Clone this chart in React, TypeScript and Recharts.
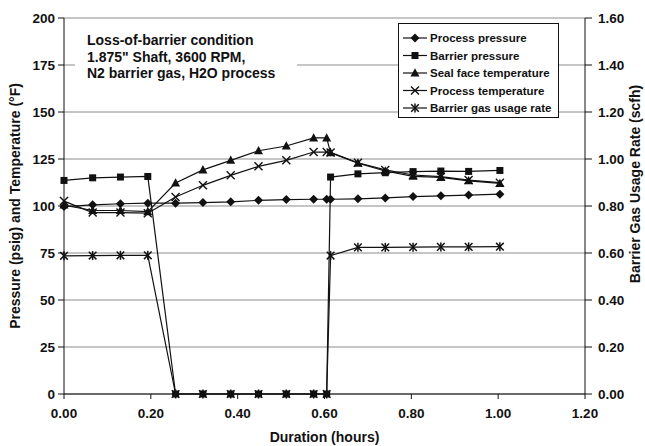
import React from 'react';
import { LineChart, Line, XAxis, YAxis, CartesianGrid } from 'recharts';

const durationHours = [0, 0.066, 0.13, 0.193, 0.257, 0.32, 0.384, 0.448, 0.512, 0.575, 0.605, 0.614, 0.677, 0.74, 0.804, 0.868, 0.932, 1.004];
const processPressure = [99.7, 100.6, 101.2, 101.5, 101.5, 101.8, 102.2, 103.0, 103.4, 103.6, 103.6, 103.6, 103.8, 104.3, 105.0, 105.4, 105.8, 106.3];
const barrierPressure = [113.6, 115.0, 115.4, 115.7, 0, 0, 0, 0, 0, 0, 0, 115.4, 117.1, 117.7, 118.3, 118.6, 118.4, 118.9];
const sealFaceTemp = [100.5, 97.6, 97.6, 97.0, 112.2, 119.2, 124.3, 129.4, 131.9, 136.2, 136.2, 128.3, 122.8, 118.6, 115.8, 115.2, 113.4, 112.0];
const processTemp = [102.6, 96.5, 96.5, 96.2, 104.8, 111.0, 116.3, 121.1, 124.3, 128.7, 128.7, 128.5, 123.0, 119.2, 116.5, 115.6, 113.8, 112.4];
const gasUsageRate = [0.588, 0.589, 0.59, 0.59, 0, 0, 0, 0, 0, 0, 0, 0.589, 0.624, 0.624, 0.625, 0.626, 0.626, 0.627];

const leftTicks = [0, 25, 50, 75, 100, 125, 150, 175, 200];
const rightTicks = [0, 0.2, 0.4, 0.6, 0.8, 1.0, 1.2, 1.4, 1.6];
const xTicks = [0, 0.2, 0.4, 0.6, 0.8, 1.0, 1.2];

const seriesNames = ['Process pressure', 'Barrier pressure', 'Seal face temperature', 'Process temperature', 'Barrier gas usage rate'];
const noteLines = ['Loss-of-barrier condition', '1.875" Shaft, 3600 RPM,', 'N2 barrier gas, H2O process'];
const xTitle = 'Duration (hours)';
const leftTitle = 'Pressure (psig) and Temperature (°F)';
const rightTitle = 'Barrier Gas Usage Rate (scfh)';

const data = durationHours.map((h, i) => ({
  h,
  processPressure: processPressure[i],
  barrierPressure: barrierPressure[i],
  sealFaceTemp: sealFaceTemp[i],
  processTemp: processTemp[i],
  gasUsage: gasUsageRate[i],
}));

const FONT = '"Liberation Sans", Arial, sans-serif';
const INK = '#111';

const Diamond = ({ cx, cy }: any) => (
  <path d={`M${cx},${cy - 4.5} L${cx + 4.5},${cy} L${cx},${cy + 4.5} L${cx - 4.5},${cy} Z`} fill={INK} />
);
const Square = ({ cx, cy }: any) => <rect x={cx - 3.5} y={cy - 3.5} width={7} height={7} fill={INK} />;
const Triangle = ({ cx, cy }: any) => (
  <path d={`M${cx},${cy - 4.8} L${cx + 4.5},${cy + 3.5} L${cx - 4.5},${cy + 3.5} Z`} fill={INK} />
);
const Cross = ({ cx, cy }: any) => (
  <g stroke={INK} strokeWidth={1.4}>
    <line x1={cx - 4} y1={cy - 4} x2={cx + 4} y2={cy + 4} />
    <line x1={cx - 4} y1={cy + 4} x2={cx + 4} y2={cy - 4} />
  </g>
);
const Asterisk = ({ cx, cy }: any) => (
  <g stroke={INK} strokeWidth={1.5}>
    <line x1={cx - 3.8} y1={cy - 3.8} x2={cx + 3.8} y2={cy + 3.8} />
    <line x1={cx - 3.8} y1={cy + 3.8} x2={cx + 3.8} y2={cy - 3.8} />
    <line x1={cx} y1={cy - 4.5} x2={cx} y2={cy + 4.5} />
  </g>
);

const markers = [Diamond, Square, Triangle, Cross, Asterisk];

const makeDot = (Shape: any) => (props: any) => {
  const { cx, cy, index } = props;
  if (cx == null || cy == null || isNaN(cx) || isNaN(cy)) return <g key={`d${index}`} />;
  return (
    <g key={`d${index}`}>
      <Shape cx={cx} cy={cy} />
    </g>
  );
};

const tickStyle = { fontFamily: FONT, fontWeight: 700, fontSize: 13.5, fill: INK };

export default function App() {
  const legendRows = [38, 55.5, 73, 90.5, 108];
  return (
    <div style={{ position: 'absolute', left: 0, top: 0, width: 645, height: 446, background: '#fff', fontFamily: FONT }}>
      <LineChart width={645} height={446} data={data} margin={{ top: 18, right: 0, bottom: 0, left: 0 }}>
        <CartesianGrid yAxisId="left" vertical={false} stroke="#8c8c8c" strokeWidth={1} />
        <XAxis
          dataKey="h"
          type="number"
          domain={[0, 1.2]}
          ticks={xTicks}
          tickFormatter={(v: number) => v.toFixed(2)}
          height={52}
          tickSize={5}
          tickMargin={9}
          stroke={INK}
          tick={tickStyle}
          interval={0}
        />
        <YAxis
          yAxisId="left"
          domain={[0, 200]}
          ticks={leftTicks}
          width={64}
          tickSize={6}
          tickMargin={3}
          stroke={INK}
          tick={tickStyle}
          interval={0}
        />
        <YAxis
          yAxisId="right"
          orientation="right"
          domain={[0, 1.6]}
          ticks={rightTicks}
          tickFormatter={(v: number) => v.toFixed(2)}
          width={60}
          tickSize={7}
          tickMargin={6}
          stroke={INK}
          tick={tickStyle}
          interval={0}
        />
        <Line yAxisId="left" dataKey="processPressure" name={seriesNames[0]} stroke={INK} strokeWidth={1.2} dot={makeDot(Diamond)} isAnimationActive={false} type="linear" />
        <Line yAxisId="left" dataKey="barrierPressure" name={seriesNames[1]} stroke={INK} strokeWidth={1.2} dot={makeDot(Square)} isAnimationActive={false} type="linear" />
        <Line yAxisId="left" dataKey="sealFaceTemp" name={seriesNames[2]} stroke={INK} strokeWidth={1.2} dot={makeDot(Triangle)} isAnimationActive={false} type="linear" />
        <Line yAxisId="left" dataKey="processTemp" name={seriesNames[3]} stroke={INK} strokeWidth={1.2} dot={makeDot(Cross)} isAnimationActive={false} type="linear" />
        <Line yAxisId="right" dataKey="gasUsage" name={seriesNames[4]} stroke={INK} strokeWidth={1.2} dot={makeDot(Asterisk)} isAnimationActive={false} type="linear" />
      </LineChart>
      <svg width={645} height={446} style={{ position: 'absolute', left: 0, top: 0, pointerEvents: 'none' }}>
        <rect x={75} y={26} width={222} height={58} fill="#fff" />
        {noteLines.map((t, i) => (
          <text key={t} x={87} y={[45, 62, 78][i]} fontFamily={FONT} fontWeight={700} fontSize={14} fill={INK}>
            {t}
          </text>
        ))}
        <rect x={398.5} y={23.5} width={160} height={94} fill="#fff" stroke={INK} strokeWidth={1} />
        {seriesNames.map((name, i) => {
          const M = markers[i];
          const cy = legendRows[i];
          return (
            <g key={name}>
              <line x1={403} y1={cy} x2={427} y2={cy} stroke={INK} strokeWidth={1.2} />
              <M cx={415} cy={cy} />
              <text x={430} y={cy + 4.1} fontFamily={FONT} fontWeight={700} fontSize={11.5} fill={INK}>
                {name}
              </text>
            </g>
          );
        })}
        <text x={324.5} y={442} textAnchor="middle" fontFamily={FONT} fontWeight={700} fontSize={14} fill={INK}>
          {xTitle}
        </text>
        <text x={20} y={206} transform="rotate(-90 20 206)" textAnchor="middle" fontFamily={FONT} fontWeight={700} fontSize={14} fill={INK}>
          {leftTitle}
        </text>
        <text x={640} y={184} transform="rotate(-90 640 184)" textAnchor="middle" fontFamily={FONT} fontWeight={700} fontSize={14} fill={INK}>
          {rightTitle}
        </text>
      </svg>
    </div>
  );
}
